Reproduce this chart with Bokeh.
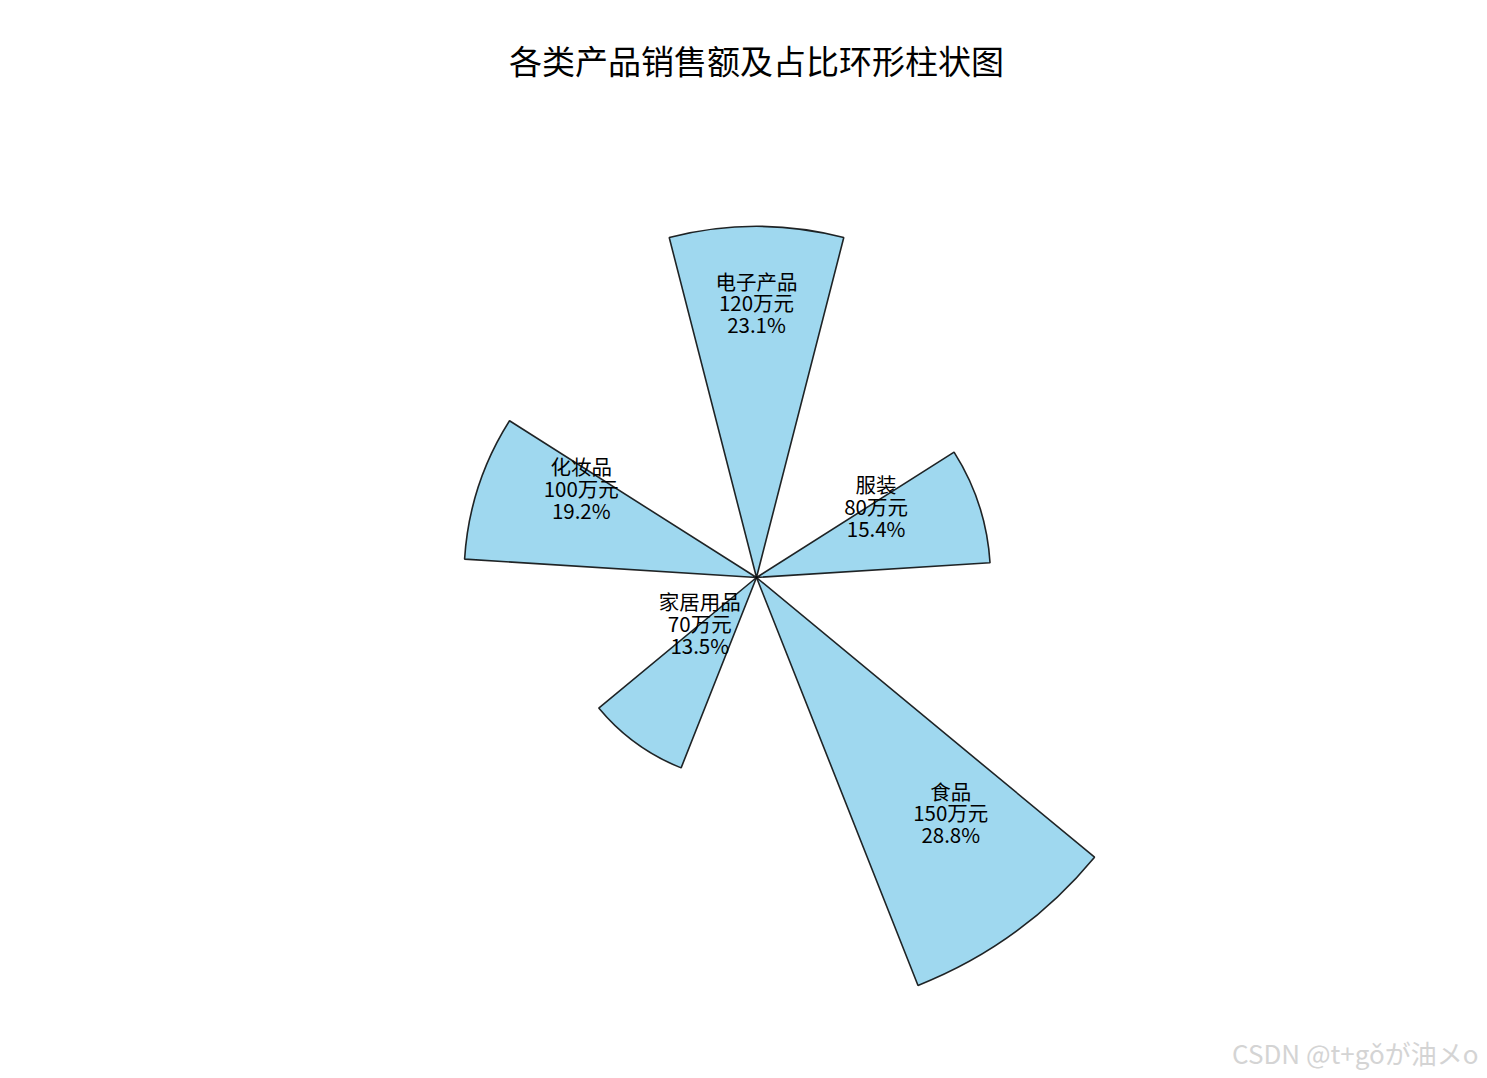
import math
from bokeh.plotting import figure
from bokeh.models import Range1d, Label, ColumnDataSource
from bokeh.core.properties import value
from bokeh.embed import file_html
from bokeh.resources import INLINE

categories = ["电子产品", "服装", "食品", "家居用品", "化妆品"]
sales = [120, 80, 150, 70, 100]
unit = "万元"
title_text = "各类产品销售额及占比环形柱状图"
watermark = "CSDN @t+gǒが油メo"

W, H = 1480, 1070
cx, cy = 756, 577          # centre in figure pixels (from top-left)
s = 2.925                  # pixels per data unit

total = sum(sales)
n = len(categories)
step = 2 * math.pi / n
bar_w = step * 0.4
thetas = [math.pi / 2 - i * step for i in range(n)]
pcts = [v / total * 100 for v in sales]
labels = [f"{c}\n{v}{unit}\n{p:.1f}%" for c, v, p in zip(categories, sales, pcts)]
lab_off = 37
lx = [(v - lab_off) * math.cos(t) for v, t in zip(sales, thetas)]
ly = [(v - lab_off) * math.sin(t) for v, t in zip(sales, thetas)]

src = ColumnDataSource(dict(
    r=sales,
    start=[t - bar_w / 2 for t in thetas],
    end=[t + bar_w / 2 for t in thetas],
    lx=lx, ly=ly, txt=labels,
))

p = figure(width=W, height=H, output_backend="svg", toolbar_location=None,
           x_range=Range1d(-cx / s, (W - cx) / s),
           y_range=Range1d(-(H - cy) / s, cy / s),
           min_border=0)
p.axis.visible = False
p.grid.visible = False
p.outline_line_color = None
p.background_fill_color = "white"
p.border_fill_color = "white"

p.wedge(x=0, y=0, radius="r", start_angle="start", end_angle="end", source=src,
        fill_color="#87CEEB", fill_alpha=0.8, line_color="black", line_alpha=0.85,
        line_width=1.6)

p.text(x="lx", y="ly", text="txt", source=src, text_align="center",
       text_baseline="bottom", text_font=value("Noto Sans CJK SC"),
       text_font_size="20.5px", text_color="black", text_line_height=0.72,
       y_offset=4)

p.add_layout(Label(x=cx, y=H - 59, x_units="screen", y_units="screen",
                   text=title_text, text_align="center", text_baseline="middle",
                   text_font="Noto Sans CJK SC", text_font_size="33px",
                   text_color="black"))
p.add_layout(Label(x=W - 2, y=H - 1052, x_units="screen", y_units="screen",
                   text=watermark, text_align="right", text_baseline="middle",
                   text_font="Noto Sans CJK SC", text_font_size="26px",
                   text_color="#d4d4d4"))

open("out.html", "w").write(file_html(p, INLINE))
